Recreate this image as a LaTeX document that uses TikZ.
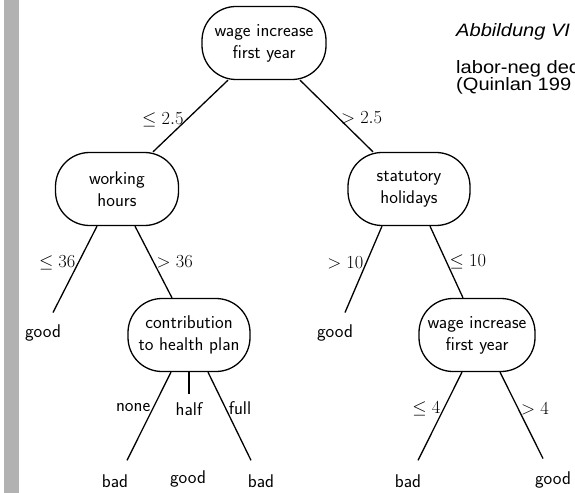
\RequirePackage{fix-cm}
\documentclass[tikz,border=0pt]{standalone}
\usepackage{fontspec}
\newfontfamily\capfont[FakeStretch=1.12]{Liberation Sans}
\usetikzlibrary{positioning}
\definecolor{bargray}{RGB}{178,178,178}
\newcommand\treesize{\fontsize{18.5}{22}\selectfont}
\newcommand\capsize{\fontsize{18}{17}\selectfont}
\tikzset{
	attr/.style={draw, line width=1.3bp, rounded corners=34bp, font=\sffamily\treesize, align=center, minimum height=73bp, inner xsep=0pt},
	leaf/.style={font=\sffamily\treesize, inner sep=0pt},
	cond/.style={inner sep=2.5bp, font=\treesize},
	condtext/.style={cond, font=\sffamily\treesize},
	branch/.style={line width=1.3bp},
	caption/.style={anchor=base west, inner sep=0pt, font=\capfont\capsize},
}
\begin{document}
\begin{tikzpicture}[x=1bp, y=-1bp]
		\useasboundingbox (0,0) rectangle (575,493);
		\fill[bargray] (4,0) rectangle (19,493);
	
		% caption on the right, cut off by the page edge
		\node[caption, font=\capfont\capsize\itshape] (fig) at (456,37) {Abbildung VI};
		\node[caption] (cap1) at (456,74) {labor-neg dec};
		\node[caption] (cap2) at (456,91) {(Quinlan 199};
	
		% attribute nodes
		\node[attr, minimum width=124bp] (root) at (264,43) {wage increase\\first year};
		\node[attr, minimum width=123bp] (work) at (117,189) {working\\hours};
		\node[attr, minimum width=122bp] (stat) at (409,189) {statutory\\holidays};
		\node[attr, minimum width=122bp] (health) at (189,335) {contribution\\to health plan};
		\node[attr, minimum width=116bp] (wage) at (477,335) {wage increase\\first year};
		
		% leaves
		\node[leaf] (good1) at (43,333) {good};
		\node[leaf] (bad1) at (115,481) {bad};
		\node[leaf] (good2) at (188,479) {good};
		\node[leaf] (bad2) at (261,481) {bad};
		\node[leaf] (good3) at (335,333) {good};
		\node[leaf] (bad3) at (408,481) {bad};
		\node[leaf] (good4) at (553,480) {good};
		\node[leaf] (half) at (189,409) {half};
		
		\draw[branch] ([xshift=-36bp]root.south) -- ([xshift=36bp]work.north) node[cond, pos=.55, left] {$\le 2.5$};
		\draw[branch] ([xshift=36bp]root.south) -- ([xshift=-36bp]stat.north) node[cond, pos=.52, right] {$> 2.5$};
		
		\draw[branch] ([xshift=-20bp]work.south) -- ([xshift=10bp, yshift=12bp]good1.north) node[cond, pos=.42, left] {$\le 36$};
		\draw[branch] ([xshift=18bp]work.south) -- ([xshift=-17bp]health.north) node[cond, pos=.5, right] {$> 36$};
		
		\draw[branch] ([xshift=-27bp]stat.south) -- ([xshift=10bp, yshift=12bp]good3.north) node[cond, pos=.42, left] {$> 10$};
		\draw[branch] ([xshift=21bp]stat.south) -- ([xshift=-14bp]wage.north) node[cond, pos=.5, right] {$\le 10$};
		
		\draw[branch] ([xshift=-18bp]health.south) -- ([xshift=12bp, yshift=14bp]bad1.north) node[condtext, pos=.4, left] {none};
		\draw[branch] (health.south) -- ([yshift=8bp]half.north);
		\draw[branch] ([xshift=19bp]health.south) -- ([xshift=-10bp, yshift=14bp]bad2.north) node[condtext, pos=.41, right] {full};
		
		\draw[branch] ([xshift=-15bp]wage.south) -- ([xshift=10bp, yshift=14bp]bad3.north) node[cond, pos=.42, left] {$\le 4$};
		\draw[branch] ([xshift=23bp]wage.south) -- ([xshift=-10bp, yshift=13bp]good4.north) node[cond, pos=.42, right] {$> 4$};
	\end{tikzpicture}
\end{document}
